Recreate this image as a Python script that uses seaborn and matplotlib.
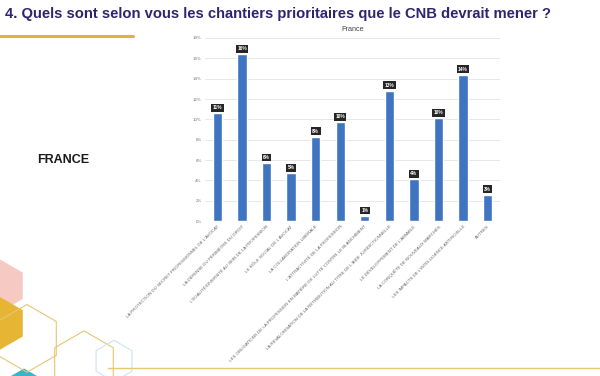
import numpy as np
import pandas as pd
import seaborn as sns
import matplotlib.pyplot as plt
from matplotlib.patches import Polygon

categories = [
    "LA PROTECTION DU SECRET PROFESSIONNEL DE L'AVOCAT",
    "LA DÉFENSE DU PÉRIMÈTRE DU DROIT",
    "L'ÉGALITÉ/DIVERSITÉ AU SEIN DE LA PROFESSION",
    "LE RÔLE SOCIAL DE L'AVOCAT",
    "LA COLLABORATION LIBÉRALE",
    "L'ATTRACTIVITÉ DE LA PROFESSION",
    "LES OBLIGATIONS DE LA PROFESSION EN MATIÈRE DE LUTTE CONTRE LE BLANCHIMENT",
    "LA REVALORISATION DE LA RÉTRIBUTION AU TITRE DE L'AIDE JURIDICTIONNELLE",
    "LE DÉVELOPPEMENT DE L'AMIABLE",
    "LA CONQUÊTE DE NOUVEAUX MARCHÉS",
    "LES IMPACTS DE L'INTELLIGENCE ARTIFICIELLE",
    "AUTRES",
]
values = [10.6, 16.4, 5.7, 4.7, 8.3, 9.7, 0.5, 12.8, 4.1, 10.1, 14.4, 2.6]
value_labels = ["11%", "16%", "6%", "5%", "8%", "10%", "1%", "13%", "4%", "10%", "14%", "3%"]
y_ticks = [0, 2, 4, 6, 8, 10, 12, 14, 16, 18]

df = pd.DataFrame({"chantier": categories, "pct": values})

sns.set_theme(style="whitegrid")
plt.rcParams['font.family'] = ['Liberation Sans', 'DejaVu Sans']

fig = plt.figure(figsize=(6, 3.76), dpi=100)
fig.patch.set_facecolor('white')
ax = fig.add_axes([0.342, 0.412, 0.491, 0.487])

sns.barplot(data=df, x="chantier", y="pct", color="#3f74c0", width=0.38,
            saturation=1, ax=ax)

for i, (v, lab) in enumerate(zip(values, value_labels)):
    ax.text(i, v + 0.3, lab, ha='center', va='bottom', fontsize=3.4,
            color='white', fontweight='bold',
            bbox=dict(boxstyle='square,pad=0.3', fc='#262626', ec='none'))

ax.set_ylim(0, 18)
ax.set_xlim(-0.5, 11.5)
ax.set_yticks(y_ticks)
ax.set_yticklabels([f"{t}%" for t in y_ticks], fontsize=3.2, color='#777777')
ax.set_xticks(range(len(categories)))
ax.set_xticklabels(categories, rotation=45, ha='right', rotation_mode='anchor',
                   fontsize=3.2, color='#666666')
ax.tick_params(axis='both', length=0, pad=2.5)
ax.set_xlabel("")
ax.set_ylabel("")
ax.grid(axis='y', color='#e4e4e4', linewidth=0.6)
ax.grid(axis='x', visible=False)
for s in ax.spines.values():
    s.set_visible(False)
ax.axhline(0, color='#c8c8c8', linewidth=0.7)
ax.set_title("France", fontsize=5.2, color='#444444', pad=5)

# slide heading
fig.text(0.008, 0.962, "4. Quels sont selon vous les chantiers prioritaires que le CNB devrait mener ?",
         fontsize=10.6, fontweight='bold', color='#2f2470', va='center', ha='left')
fig.add_artist(plt.Line2D([0, 0.222], [0.905, 0.905], color='#e2b33c', linewidth=2.2))
fig.text(0.062, 0.574, "FRANCE", fontsize=9, fontweight='bold', color='#1a1a1a',
         va='center', ha='left')

# decorative hexagons bottom left
def hexagon(cx, cy, r, **kw):
    ang = np.radians(np.arange(0, 360, 60) + 30)
    xs = cx + r * np.cos(ang) * 376 / 600
    ys = cy + r * np.sin(ang)
    return Polygon(np.column_stack([xs, ys]), closed=True,
                   transform=fig.transFigure, **kw)

fig.add_artist(hexagon(0.0, 0.24, 0.07, fc='#f6c9c2', ec='none'))
fig.add_artist(hexagon(0.0, 0.14, 0.07, fc='#e6b533', ec='none'))
fig.add_artist(hexagon(0.04, -0.02, 0.04, fc='#3ab5c8', ec='none'))
fig.add_artist(hexagon(0.14, 0.03, 0.09, fc='none', ec='#e8c674', lw=0.8))
fig.add_artist(hexagon(0.045, 0.10, 0.09, fc='none', ec='#e8c674', lw=0.8))
fig.add_artist(hexagon(0.19, 0.04, 0.055, fc='none', ec='#cfe3f3', lw=0.8))
fig.add_artist(plt.Line2D([0.18, 1.0], [0.022, 0.022], color='#e8c674', linewidth=1.0))

fig.savefig("out.png", dpi=100)
